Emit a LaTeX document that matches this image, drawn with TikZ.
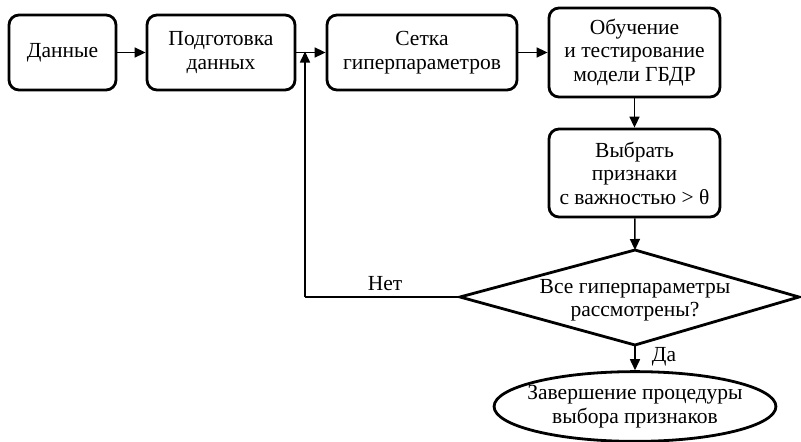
\documentclass[tikz,border=0pt]{standalone}
\usepackage{fontspec}
\setmainfont{Liberation Serif}
\newfontfamily\tmsfont{Liberation Serif}
\usetikzlibrary{shapes.geometric,arrows.meta}
\begin{document}
\begin{tikzpicture}[x=1pt,y=-1pt,
  every node/.style={font=\tmsfont\fontsize{21.5}{23.5}\selectfont},
  stepbox/.style={draw, line width=2.8pt, rounded corners=10pt, align=center, inner sep=0pt},
  endbox/.style={draw, ellipse, line width=2.8pt, align=center, inner xsep=-8pt, inner ysep=3.5pt},
  dtext/.style={align=center, inner sep=0pt},
  border/.style={line width=2.8pt, line join=miter},
  conn/.style={line width=1.6pt, -{Triangle[length=11pt,width=10pt]}},
  plain/.style={line width=1.6pt},
  lbl/.style={inner sep=0pt}]
\useasboundingbox (0,0) rectangle (801,442);
\node[stepbox, minimum width=107pt, minimum height=75pt] (b1) at (62.5,52.5) {Данные};
\node[stepbox, minimum width=148pt, minimum height=75pt] (b2) at (221,52.5) {Подготовка\\данных};
\node[stepbox, minimum width=190pt, minimum height=75pt] (b3) at (422,52.5) {Сетка\\гиперпараметров};
\node[stepbox, minimum width=171pt, minimum height=89pt] (b4) at (634.5,52.5) {Обучение\\и тестирование\\модели ГБДР};
\node[stepbox, minimum width=171pt, minimum height=88pt] (b5) at (634.5,173) {Выбрать\\признаки\\с важностью > θ};
\node[dtext] (d) at (635,300) {Все гиперпараметры\\рассмотрены?};
\coordinate (dl) at (460,297);
\coordinate (dr) at (799,297);
\coordinate (dt) at (635,250);
\coordinate (db) at (635,345);
\draw[border] (dl) -- (dt) -- (dr) -- (db) -- cycle;
\node[endbox] (e) at (635,406.5) {Завершение процедуры\\выбора признаков};
\coordinate (ret) at (305,52.5);
\coordinate (corner) at (305,297);
\draw[conn] (b1) -- (b2);
\draw[conn] (b2) -- (b3);
\draw[conn] (b3) -- (b4);
\draw[conn] (b4) -- (b5);
\draw[conn] (b5) -- (dt);
\draw[conn] (db) -- (e);
\draw[plain] (dl) -- (corner);
\draw[conn] (corner) -- ([yshift=1pt]ret);
\node[lbl] (no) at (385,284) {Нет};
\node[lbl] (yes) at (664,357) {Да};
\end{tikzpicture}
\end{document}
